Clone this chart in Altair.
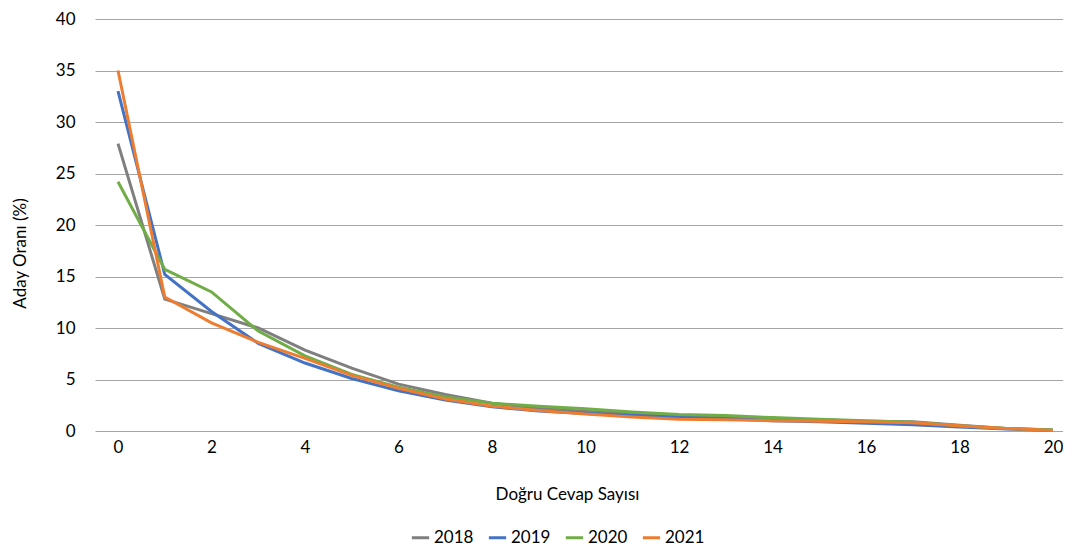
import altair as alt
import pandas as pd

dogru = list(range(21))
y2018 = [27.9, 12.8, 11.4, 10.0, 7.85, 6.1, 4.55, 3.55, 2.7, 2.2, 1.9, 1.7, 1.5, 1.4, 1.2, 1.1, 0.95, 0.9, 0.55, 0.25, 0.1]
y2019 = [33.0, 15.2, 11.6, 8.5, 6.6, 5.1, 3.9, 3.0, 2.35, 1.95, 1.7, 1.5, 1.35, 1.2, 1.0, 0.9, 0.75, 0.6, 0.4, 0.2, 0.05]
y2020 = [24.2, 15.7, 13.5, 9.7, 7.3, 5.5, 4.25, 3.3, 2.7, 2.4, 2.15, 1.85, 1.6, 1.5, 1.3, 1.15, 1.0, 0.85, 0.5, 0.25, 0.1]
y2021 = [35.0, 13.0, 10.5, 8.6, 7.05, 5.4, 4.15, 3.1, 2.4, 2.0, 1.65, 1.35, 1.15, 1.1, 1.0, 0.95, 0.9, 0.8, 0.5, 0.25, 0.05]
years = ["2018", "2019", "2020", "2021"]
colors = ["#7F7F7F", "#4472C4", "#70AD47", "#ED7D31"]

rows = []
for yr, vals in zip(years, [y2018, y2019, y2020, y2021]):
    for d, v in zip(dogru, vals):
        rows.append({"Doğru": d, "Oran": v, "Yıl": yr})
df = pd.DataFrame(rows)

FONT = "Lato"

chart = alt.Chart(df).mark_line(strokeWidth=3).encode(
    x=alt.X("Doğru:Q",
            scale=alt.Scale(domain=[-0.492, 20.214], nice=False, zero=False),
            axis=alt.Axis(values=list(range(0, 21, 2)), title="Doğru Cevap Sayısı",
                          grid=False, ticks=False, domain=False, labelPadding=8,
                          labelFontSize=17, titleFontSize=17, titleFontWeight="normal",
                          labelColor="#000000", titleColor="#000000",
                          titleX=472, titleY=63, titleBaseline="middle", titleAlign="center")),
    y=alt.Y("Oran:Q",
            scale=alt.Scale(domain=[0, 40], nice=False),
            axis=alt.Axis(values=list(range(0, 41, 5)), title="Aday Oranı (%)",
                          grid=True, gridColor="#A6A6A6", gridWidth=1,
                          ticks=False, domain=False, labelPadding=20,
                          labelFontSize=17, titleFontSize=17, titleFontWeight="normal",
                          labelColor="#000000", titleColor="#000000",
                          titleX=-66, titleY=234)),
    color=alt.Color("Yıl:N", scale=alt.Scale(domain=years, range=colors),
                    legend=alt.Legend(title=None, orient="none", direction="horizontal",
                                      legendX=315, legendY=508,
                                      symbolType="stroke", symbolSize=300, symbolStrokeWidth=3,
                                      labelFontSize=17, labelColor="#000000",
                                      labelOffset=3, columnPadding=8)),
).properties(
    width=968, height=412,
    autosize=alt.AutoSizeParams(type="none"),
    padding={"left": 87, "top": 11, "right": 0, "bottom": 122},
).configure(font=FONT).configure_view(stroke=None)

chart.save("out.html", embed_options={"renderer": "svg", "actions": False})
